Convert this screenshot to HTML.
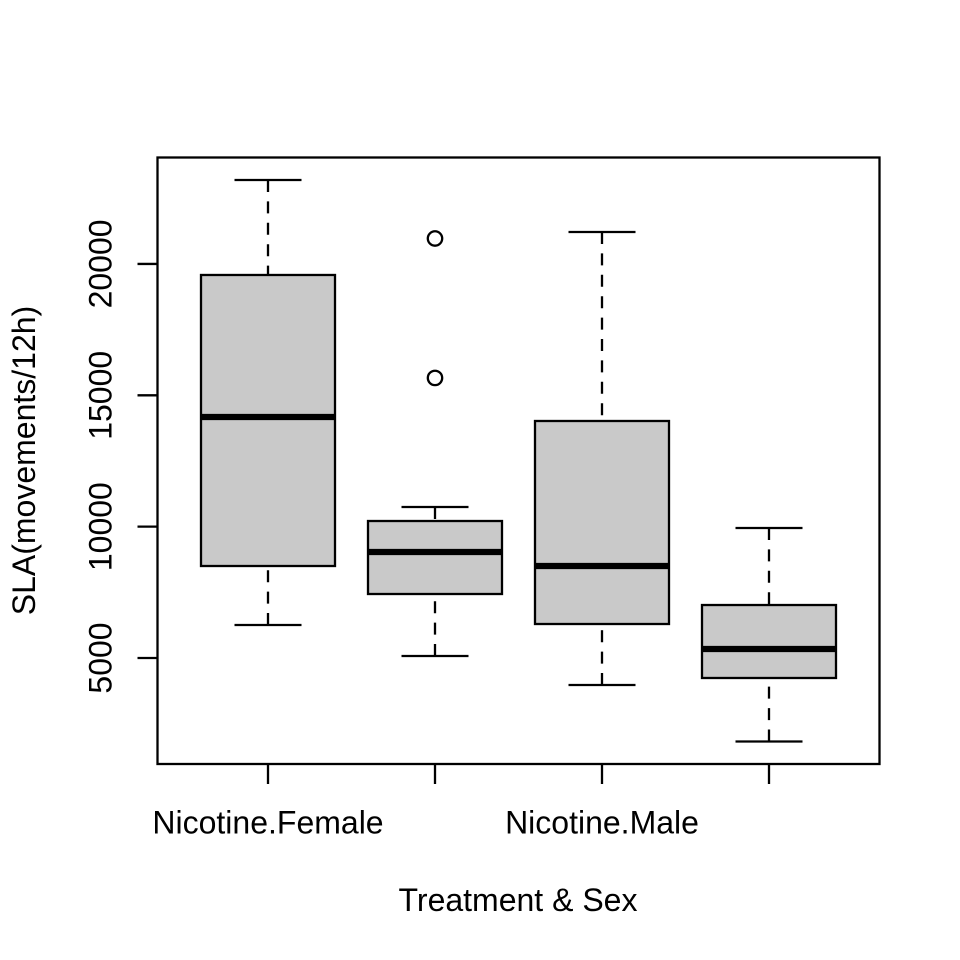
<!DOCTYPE html>
<html>
<head>
<meta charset="utf-8">
<style>
html,body{margin:0;padding:0;background:#fff;}
svg{display:block;}
text{font-family:"Liberation Sans",Arial,sans-serif;font-size:32px;fill:#000;}
</style>
</head>
<body>
<svg id="chart" width="960" height="960" viewBox="0 0 960 960" xmlns="http://www.w3.org/2000/svg"></svg>
<script>
const categories = ["Nicotine.Female", "", "Nicotine.Male", ""];
const whiskerLow = [6256, 5076, 3972, 1822];
const quartileLow = [8502, 7436, 6294, 4239];
const medians = [14174, 9035, 8502, 5343];
const quartileHigh = [19580, 10215, 14022, 7017];
const whiskerHigh = [23196, 10748, 21216, 9949];
const outliers = [[], [15660, 20970], [], []];
const yTicks = [5000, 10000, 15000, 20000];
const yTickLabels = ["5000", "10000", "15000", "20000"];

const NS = "http://www.w3.org/2000/svg";
const svg = document.getElementById("chart");
const plotLeft = 157.5, plotRight = 879.5, plotTop = 157.5, plotBottom = 764;
const LW = 2.3;
function xScale(i) { return 268 + 167 * i; }
function yScale(v) { return 658 - (v - 5000) * 0.02627; }
function add(tag, attrs, parent) {
  const el = document.createElementNS(NS, tag);
  for (const k in attrs) el.setAttribute(k, attrs[k]);
  (parent || svg).appendChild(el);
  return el;
}
function line(x1, y1, x2, y2, parent, w, dash) {
  const attrs = { x1: x1, y1: y1, x2: x2, y2: y2, stroke: "#000", "stroke-width": w || LW };
  if (dash) attrs["stroke-dasharray"] = dash;
  return add("line", attrs, parent);
}

categories.forEach(function (cat, i) {
  const g = add("g", {});
  
  
  const cx = xScale(i);

  const upper = line(cx, yScale(whiskerHigh[i]), cx, yScale(quartileHigh[i]), g, LW, "12 9.4");
  
  
  const lower = line(cx, yScale(whiskerLow[i]), cx, yScale(quartileLow[i]), g, LW, "12 9.4");
  
  
  const capHigh = line(cx - 33.5, yScale(whiskerHigh[i]), cx + 33.5, yScale(whiskerHigh[i]), g);
  
  
  const capLow = line(cx - 33.5, yScale(whiskerLow[i]), cx + 33.5, yScale(whiskerLow[i]), g);
  
  

  const rect = add("rect", {
    x: cx - 67,
    y: yScale(quartileHigh[i]),
    width: 134,
    height: yScale(quartileLow[i]) - yScale(quartileHigh[i]),
    fill: "#c9c9c9",
    stroke: "#000",
    "stroke-width": LW
  }, g);
  
  

  const med = line(cx - 67, yScale(medians[i]), cx + 67, yScale(medians[i]), g, 6.2);
  
  

  outliers[i].forEach(function (v) {
    const c = add("circle", { cx: cx, cy: yScale(v), r: 7.2, fill: "none", stroke: "#000", "stroke-width": LW }, g);
    
    
  });

  const tick = line(cx, plotBottom, cx, 784);
  
  

  if (cat) {
    const t = add("text", { x: cx, y: 833.5, "text-anchor": "middle" });
    t.textContent = cat;
    
    
  }
});

yTicks.forEach(function (v, i) {
  const y = yScale(v);
  const tick = line(137.5, y, plotLeft, y);
  
  
  const t = add("text", { x: 0, y: 0, "text-anchor": "middle", transform: "translate(111.5," + y + ") rotate(-90)" });
  t.textContent = yTickLabels[i];
  
  
});

const frame = add("rect", {
  x: plotLeft, y: plotTop,
  width: plotRight - plotLeft, height: plotBottom - plotTop,
  fill: "none", stroke: "#000", "stroke-width": LW
});



const xTitle = add("text", { x: 518, y: 911, "text-anchor": "middle" });
xTitle.textContent = "Treatment & Sex";



const yTitle = add("text", { x: 0, y: 0, "text-anchor": "middle", transform: "translate(35,460.5) rotate(-90)" });
yTitle.textContent = "SLA(movements/12h)";


</script>
</body>
</html>
